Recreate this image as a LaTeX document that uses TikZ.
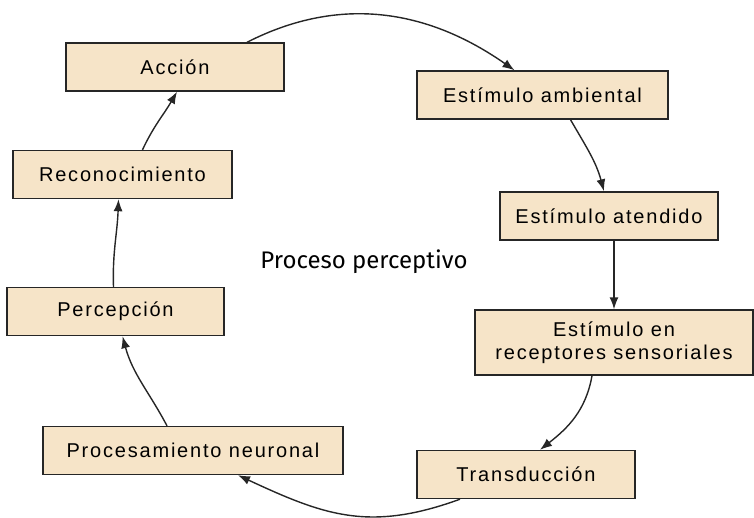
\documentclass[tikz,border=0pt]{standalone}
\usepackage{fontspec}
\usepackage{xcolor}
\usepackage{tikz}
\usetikzlibrary{arrows.meta,positioning}
\newfontfamily\boxfont[LetterSpace=9]{Liberation Sans}
\newfontfamily\titlefont{Fira Sans}
\definecolor{boxfill}{RGB}{246,228,200}

\begin{document}
\begin{tikzpicture}[
  x=1pt, y=-1pt,
  stage/.style={rectangle, draw=black!85, line width=1.4pt, fill=boxfill, minimum width=218pt, minimum height=48pt, align=center, inner sep=2pt, font=\boxfont\fontsize{20}{23}\selectfont},
  arr/.style={-{Latex[length=12pt,width=9pt]}, line width=1.4pt, black!85},
  every node/.style={inner sep=4pt}
]
\useasboundingbox (0,0) rectangle (754,518);

% Left column
\node[stage] (accion) at (175,67) {Acción};
\node[stage, minimum width=219pt] (reconoc) at (122.5,174.5) {Reconocimiento};
\node[stage, minimum width=217pt] (percep) at (115.5,311.5) {Percepción};
\node[stage, minimum width=300pt] (proces) at (193,450.5) {Procesamiento neuronal};

% Right column
\node[stage, minimum width=251pt] (ambiental) at (542.5,95) {Estímulo ambiental};
\node[stage] (atendido) at (609,216) {Estímulo atendido};
\node[stage, minimum width=278pt, minimum height=65pt] (receptores) at (614,342.5) {Estímulo en\\receptores sensoriales};
\node[stage] (transd) at (526,474.5) {Transducción};

% Centre title
\node[font=\titlefont\fontsize{24}{27}\selectfont] (titulo) at (364,262) {Proceso perceptivo};

% Cycle
\draw[arr] ([xshift=72pt]accion.north) to[out=27, in=145] ([xshift=-28pt]ambiental.north);
\draw[arr] ([xshift=28pt]ambiental.south) to[out=-60, in=105] ([xshift=-5pt]atendido.north);
\draw[arr] ([xshift=5pt]atendido.south) -- ([xshift=0pt]receptores.north);
\draw[arr] ([xshift=-22pt]receptores.south) to[out=-100, in=38] ([xshift=14pt]transd.north);
\draw[arr] ([xshift=-66pt]transd.south) to[out=-160, in=-25, looseness=1.1] ([xshift=45pt]proces.south);
\draw[arr] ([xshift=-26pt]proces.north) to[out=118, in=-75] ([xshift=7pt]percep.south);
\draw[arr] ([xshift=-2pt]percep.north) to[out=92, in=-92] ([xshift=-4pt]reconoc.south);
\draw[arr] ([xshift=20pt]reconoc.north) to[out=65, in=-120] ([xshift=2pt]accion.south);

\end{tikzpicture}
\end{document}
